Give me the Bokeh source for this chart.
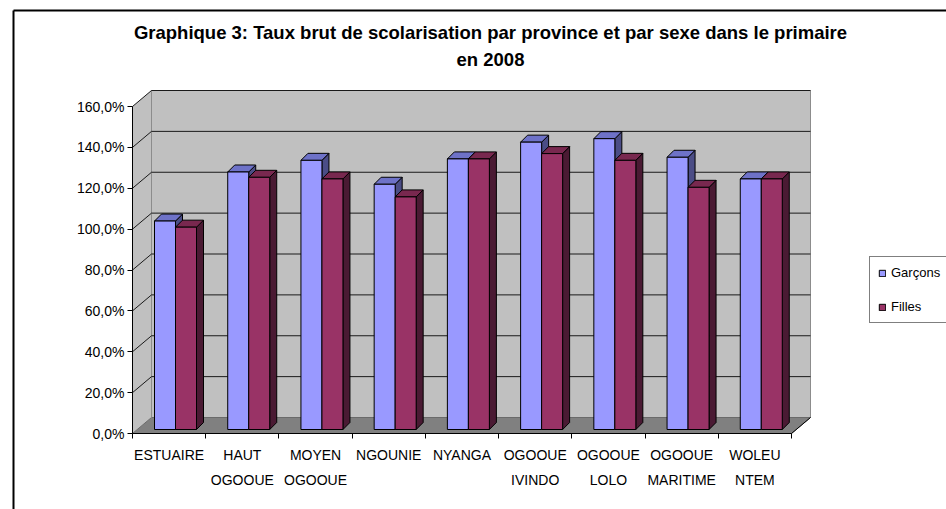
from bokeh.plotting import figure
from bokeh.models import (FixedTicker, Legend, LegendItem, Range1d, Label,
                          CustomJSTickFormatter)
from bokeh.embed import file_html
from bokeh.resources import INLINE

# ---------------- data ----------------
categories = ["ESTUAIRE", "HAUT\nOGOOUE", "MOYEN\nOGOOUE", "NGOUNIE", "NYANGA",
              "OGOOUE\nIVINDO", "OGOOUE\nLOLO", "OGOOUE\nMARITIME", "WOLEU\nNTEM"]
garcons = [102.0, 126.0, 131.7, 120.0, 132.4, 140.6, 142.3, 133.2, 122.6]
filles = [99.0, 123.4, 122.6, 113.8, 132.4, 135.0, 131.7, 118.5, 122.6]
series_names = ["Garçons", "Filles"]
y_ticks = [0, 20, 40, 60, 80, 100, 120, 140, 160]
title_line1 = "Graphique 3: Taux brut de scolarisation par province et par sexe dans le primaire"
title_line2 = "en 2008"

# ---------------- geometry (pixels -> data) ----------------
W, H = 946, 509
OX, OY = 132, 433             # pixel position of the front origin
n = len(categories)
ymax = y_ticks[-1]
PX = (810 - 19 - OX) / n      # px per category
PY = (OY - 16 - 90) / ymax    # px per percent
DX, DY = 19 / PX, 16 / PY     # wall depth
BY = 4 / PY                   # bar plane offset (vertical)
DDX, DDY = 7 / PX, 7 / PY     # bar depth
BW = 21 / PX                  # bar width
G0 = 22 / PX                  # first bar left inside category


def ux(px):
    return (px - OX) / PX


def vy(py):
    return (OY - py) / PY


FONT = "Liberation Sans"

p = figure(width=W, height=H, output_backend="svg", toolbar_location=None,
           x_range=Range1d(ux(0), ux(W)), y_range=Range1d(vy(H), vy(0)),
           min_border=0, min_border_left=0, min_border_right=0,
           min_border_top=0, min_border_bottom=0)
p.outline_line_color = None
p.xgrid.visible = False
p.ygrid.visible = False
p.background_fill_color = "white"
p.border_fill_color = "white"

# outer chart border (cropped at right and bottom like the reference)
p.segment(x0=[ux(13), ux(13)], y0=[vy(10), vy(10)], x1=[ux(13), ux(W + 5)],
          y1=[vy(H + 5), vy(10)], line_color="black", line_width=2)

# walls and floor
p.quad(left=DX, right=n + DX, bottom=DY, top=ymax + DY,
       fill_color="#c0c0c0", line_color="#8c8c8c")
p.patch([0, DX, DX, 0], [0, DY, ymax + DY, ymax], fill_color="#c0c0c0", line_color=None)
p.patch([0, n, n + DX, DX], [0, 0, DY, DY], fill_color="#808080", line_color="#6a6a6a")
p.segment(x0=[DX], y0=[DY], x1=[DX], y1=[ymax + DY], line_color="#8c8c8c")

gt = [t for t in y_ticks if t > 0]
p.segment(x0=[DX] * len(gt), y0=[t + DY for t in gt], x1=[n + DX] * len(gt),
          y1=[t + DY for t in gt], line_color="#1a1a1a")
p.segment(x0=[0] * len(gt), y0=gt, x1=[DX] * len(gt), y1=[t + DY for t in gt],
          line_color="#1a1a1a")

# front axes lines
p.segment(x0=[0, 0, n], y0=[0, 0, 0], x1=[0, n, n + DX], y1=[ymax, 0, DY],
          line_color="black")

# bars
fronts = []
specs = [(garcons, "#9999ff", "#6e72c8", "#4b4d86", 0),
         (filles, "#993366", "#78284f", "#4a1a33", 1)]
for vals, cf, ct, cs, k in specs:
    lefts = [i + G0 + k * BW for i in range(n)]
    rights = [l + BW for l in lefts]
    tops = [v + BY for v in vals]
    p.patches(xs=[[r, r + DDX, r + DDX, r] for r in rights],
              ys=[[BY, BY + DDY, t + DDY, t] for t in tops],
              fill_color=cs, line_color="black", line_width=1)
    p.patches(xs=[[l, l + DDX, r + DDX, r] for l, r in zip(lefts, rights)],
              ys=[[t, t + DDY, t + DDY, t] for t in tops],
              fill_color=ct, line_color="black", line_width=1)
    fr = p.quad(left=lefts, right=rights, bottom=BY, top=tops,
                fill_color=cf, line_color="black", line_width=1)
    fronts.append(fr)

# axes, drawn at the front origin
p.yaxis.fixed_location = 0
p.yaxis.ticker = FixedTicker(ticks=y_ticks)
p.yaxis.formatter = CustomJSTickFormatter(code="return tick.toFixed(1).replace('.', ',') + '%';")
p.yaxis.axis_line_color = None
p.yaxis.major_tick_out = 5
p.yaxis.major_tick_in = 0
p.yaxis.minor_tick_line_color = None
p.yaxis.major_tick_line_color = "black"
p.yaxis.major_label_text_font = FONT
p.yaxis.major_label_text_font_size = "14px"
p.yaxis.major_label_text_color = "black"
p.yaxis.major_label_standoff = 3

p.xaxis.fixed_location = 0
p.xaxis.ticker = FixedTicker(ticks=[i + 0.5 for i in range(n)],
                             minor_ticks=list(range(n + 1)))
p.xaxis.formatter = CustomJSTickFormatter(args=dict(labels=categories),
                                          code="return labels[Math.floor(tick)];")
p.xaxis.axis_line_color = None
p.xaxis.major_tick_out = 0
p.xaxis.major_tick_in = 0
p.xaxis.minor_tick_out = 5
p.xaxis.minor_tick_in = 0
p.xaxis.minor_tick_line_color = "black"
p.xaxis.major_label_text_font = FONT
p.xaxis.major_label_text_font_size = "14px"
p.xaxis.major_label_text_color = "black"
p.xaxis.major_label_text_line_height = 1.6
p.xaxis.major_label_standoff = 8

# title
for txt, py in [(title_line1, 32), (title_line2, 59)]:
    p.add_layout(Label(x=ux(490), y=vy(py), text=txt, text_align="center",
                       text_baseline="middle", text_font=FONT, text_font_style="bold",
                       text_font_size="18.5px", text_color="black"))

# legend
legend = Legend(items=[LegendItem(label=series_names[0], renderers=[fronts[0]]),
                       LegendItem(label=series_names[1], renderers=[fronts[1]])],
                location=(869, H - 323), orientation="vertical",
                label_text_font=FONT, label_text_font_size="13px",
                label_text_color="black",
                glyph_width=8, glyph_height=8, label_height=14, label_standoff=5,
                spacing=19, padding=8, margin=0,
                border_line_color="black", border_line_width=1,
                background_fill_color="white", background_fill_alpha=1)
p.add_layout(legend, "center")

open("out.html", "w").write(file_html(p, INLINE))
